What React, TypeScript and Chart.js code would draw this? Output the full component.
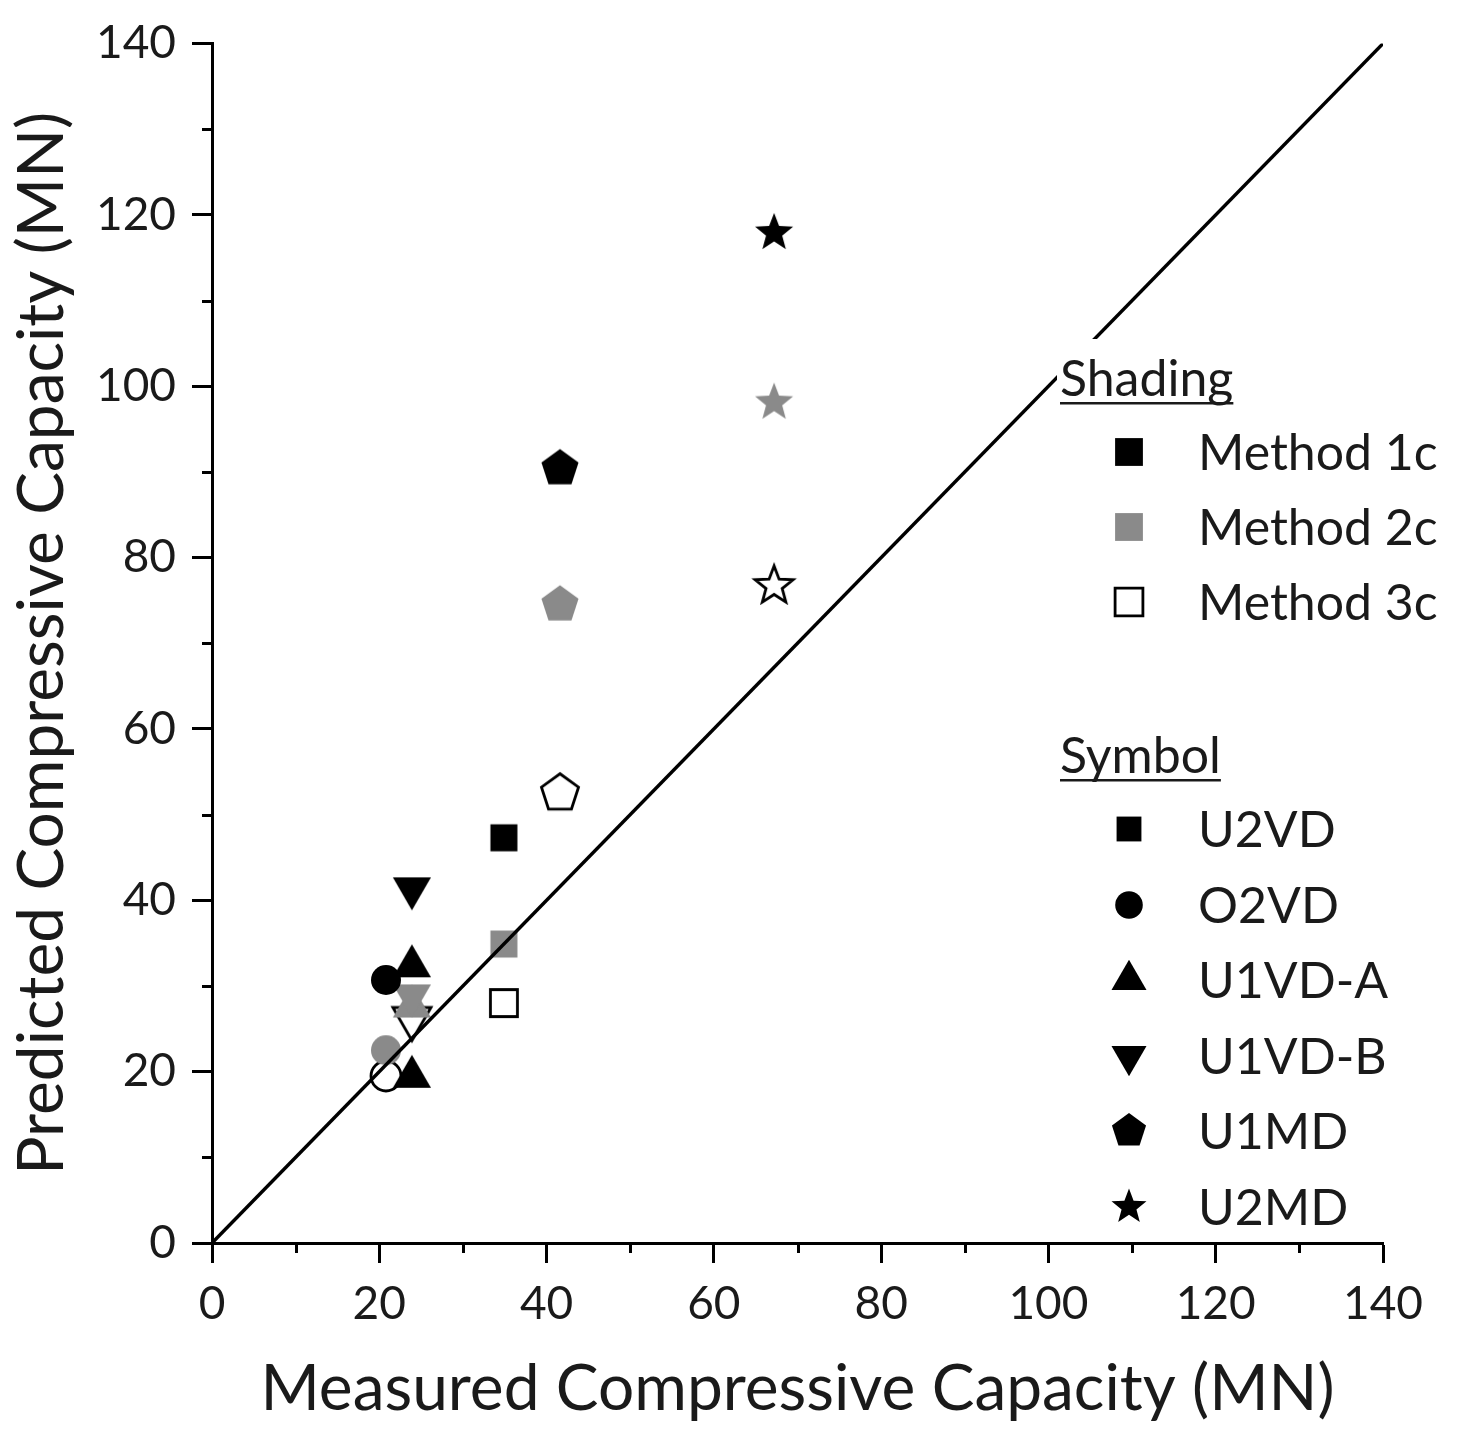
import React, { useEffect, useRef } from 'react';
import { Chart, registerables } from 'chart.js';

Chart.register(...registerables);

// ---- data ----
const specimens = ['U2VD', 'O2VD', 'U1VD-A', 'U1VD-B', 'U1MD', 'U2MD'];
const symbolShapes = ['square', 'circle', 'triangleUp', 'triangleDown', 'pentagon', 'star'];
const measured = [34.9, 20.8, 23.9, 23.9, 41.6, 67.2];
const method1c = [47.3, 30.7, 32.3, 41.4, 90.4, 117.9];
const method2c = [34.9, 22.5, 27.6, 28.9, 74.5, 98.1];
const method3c = [28.0, 19.5, 19.4, 26.2, 52.5, 76.7];
const methodNames = ['Method 1c', 'Method 2c', 'Method 3c'];
const minorTicks = [10, 30, 50, 70, 90, 110, 130];
const unityLine = [0, 140];

// ---- styles ----
const FONT = 'Lato, "Open Sans", sans-serif';
const TEXT = '#1a1a1a';
const GRAY = '#8a8a8a';
// fill per method ('open' = white fill with black outline)
const methodFill = ['#000000', GRAY, 'open'];
// the one method 3c marker that is shown solid in the figure
const method3cFillOverride = [null, null, '#000000', null, null, null];

function drawShape(ctx, shape, cx, cy, fill, scale = 1) {
  const open = fill === 'open';
  ctx.save();
  ctx.beginPath();
  if (shape === 'square') {
    const h = 13.5 * scale;
    ctx.rect(cx - h, cy - h, 2 * h, 2 * h);
  } else if (shape === 'circle') {
    ctx.arc(cx, cy, 15 * scale, 0, Math.PI * 2);
  } else if (shape === 'triangleUp' || shape === 'triangleDown') {
    const r = 22 * scale;
    const s = shape === 'triangleUp' ? 1 : -1;
    for (let i = 0; i < 3; i++) {
      const a = (i * 2 * Math.PI) / 3;
      const px = cx + Math.sin(a) * r;
      const py = cy - s * Math.cos(a) * r;
      if (i === 0) ctx.moveTo(px, py);
      else ctx.lineTo(px, py);
    }
    ctx.closePath();
  } else if (shape === 'pentagon') {
    const r = 19.5 * scale;
    for (let i = 0; i < 5; i++) {
      const a = (i * 2 * Math.PI) / 5;
      const px = cx + Math.sin(a) * r;
      const py = cy - Math.cos(a) * r;
      if (i === 0) ctx.moveTo(px, py);
      else ctx.lineTo(px, py);
    }
    ctx.closePath();
  } else if (shape === 'star') {
    const ro = 20 * scale;
    const ri = 8.5 * scale;
    for (let i = 0; i < 10; i++) {
      const a = (i * Math.PI) / 5;
      const r = i % 2 === 0 ? ro : ri;
      const px = cx + Math.sin(a) * r;
      const py = cy - Math.cos(a) * r;
      if (i === 0) ctx.moveTo(px, py);
      else ctx.lineTo(px, py);
    }
    ctx.closePath();
  }
  if (open) {
    ctx.fillStyle = '#ffffff';
    ctx.fill();
    ctx.lineWidth = 2.8;
    ctx.strokeStyle = '#000000';
    ctx.lineJoin = 'miter';
    ctx.stroke();
  } else {
    ctx.fillStyle = fill;
    ctx.fill();
  }
  ctx.restore();
}

const imgCache = {};
function markerImage(shape, fill, scale = 1) {
  const key = shape + '|' + fill + '|' + scale;
  if (imgCache[key]) return imgCache[key];
  const size = Math.ceil(52 * scale);
  const c = document.createElement('canvas');
  c.width = size;
  c.height = size;
  const ctx = c.getContext('2d');
  drawShape(ctx, shape, size / 2, size / 2, fill, scale);
  imgCache[key] = c;
  return c;
}

const legendPlugin = {
  id: 'customLegend',
  afterDraw(chart) {
    const { ctx } = chart;
    const xs = chart.scales.x;
    const ys = chart.scales.y;
    ctx.save();
    // minor ticks
    ctx.strokeStyle = '#000';
    ctx.lineWidth = 3;
    minorTicks.forEach((v) => {
      const px = Math.round(xs.getPixelForValue(v)) + 0.5;
      ctx.beginPath();
      ctx.moveTo(px, xs.top);
      ctx.lineTo(px, xs.top + 10);
      ctx.stroke();
      const py = Math.round(ys.getPixelForValue(v)) + 0.5;
      ctx.beginPath();
      ctx.moveTo(ys.right, py);
      ctx.lineTo(ys.right - 10, py);
      ctx.stroke();
    });

    // legend box
    ctx.fillStyle = '#ffffff';
    ctx.fillRect(1057, 339, 405, 893);

    ctx.fillStyle = TEXT;
    ctx.font = '50px ' + FONT;
    ctx.textBaseline = 'alphabetic';
    ctx.textAlign = 'left';

    const heading = (text, x, base) => {
      ctx.fillText(text, x, base);
      const w = ctx.measureText(text).width;
      ctx.fillRect(x, base + 6, w, 2.5);
    };
    const rowX = 1129;
    const textX = 1198;

    heading('Shading', 1060, 396);
    const shadeRows = [452, 527, 602];
    methodNames.forEach((name, i) => {
      const img = markerImage('square', methodFill[i], 1.03);
      ctx.drawImage(img, rowX - img.width / 2, shadeRows[i] - img.height / 2);
      ctx.fillText(name, textX, shadeRows[i] + 18);
    });

    heading('Symbol', 1060, 773);
    const symRows = [829, 905, 980, 1056, 1131, 1207];
    specimens.forEach((name, i) => {
      const img = markerImage(symbolShapes[i], '#000000', 0.92);
      ctx.drawImage(img, rowX - img.width / 2, symRows[i] - img.height / 2);
      ctx.fillText(name, textX, symRows[i] + 18);
    });
    ctx.restore();
  },
};

function buildDataset(label, values, methodIdx) {
  return {
    label,
    data: values.map((v, i) => ({ x: measured[i], y: v })),
    pointStyle: values.map((_, i) => {
      let fill = methodFill[methodIdx];
      if (methodIdx === 2 && method3cFillOverride[i]) fill = method3cFillOverride[i];
      return markerImage(symbolShapes[i], fill, 1);
    }),
    pointRadius: 20,
    pointHoverRadius: 20,
    showLine: false,
    order: 1,
  };
}

export default function App() {
  const ref = useRef(null);
  useEffect(() => {
    const chart = new Chart(ref.current, {
      type: 'scatter',
      data: {
        datasets: [
          {
            label: '1:1',
            data: unityLine.map((v) => ({ x: v, y: v })),
            showLine: true,
            borderColor: '#000',
            borderWidth: 3.5,
            pointRadius: 0,
            order: 0,
          },
          buildDataset(methodNames[0], method1c, 0),
          buildDataset(methodNames[1], method2c, 1),
          buildDataset(methodNames[2], method3c, 2),
        ],
      },
      options: {
        animation: false,
        responsive: true,
        maintainAspectRatio: false,
        layout: { padding: { left: 0, top: 38, right: 79, bottom: 0 } },
        plugins: { legend: { display: false }, tooltip: { enabled: false } },
        scales: {
          x: {
            type: 'linear',
            min: 0,
            max: 140,
            ticks: {
              stepSize: 20,
              font: { family: FONT, size: 46 },
              color: TEXT,
              padding: 14,
              maxRotation: 0,
            },
            grid: { drawOnChartArea: false, drawTicks: true, tickLength: 20, tickWidth: 3, tickColor: '#000' },
            border: { display: true, color: '#000', width: 3 },
            title: {
              display: true,
              text: 'Measured Compressive Capacity (MN)',
              font: { family: FONT, size: 64 },
              color: TEXT,
              padding: { top: 0, bottom: 2 },
            },
            afterFit: (s) => {
              s.height = 187;
            },
          },
          y: {
            type: 'linear',
            min: 0,
            max: 140,
            ticks: {
              stepSize: 20,
              font: { family: FONT, size: 46 },
              color: TEXT,
              padding: 16,
            },
            grid: { drawOnChartArea: false, drawTicks: true, tickLength: 20, tickWidth: 3, tickColor: '#000' },
            border: { display: true, color: '#000', width: 3 },
            title: {
              display: true,
              text: 'Predicted Compressive Capacity (MN)',
              font: { family: FONT, size: 64 },
              color: TEXT,
              padding: { top: 4, bottom: 0 },
            },
            afterFit: (s) => {
              s.width = 212;
            },
          },
        },
      },
      plugins: [legendPlugin],
    });
    return () => chart.destroy();
  }, []);
  return (
    <div style={{ position: 'absolute', left: 0, top: 0, width: 1462, height: 1430, background: '#fff' }}>
      <canvas ref={ref} />
    </div>
  );
}
